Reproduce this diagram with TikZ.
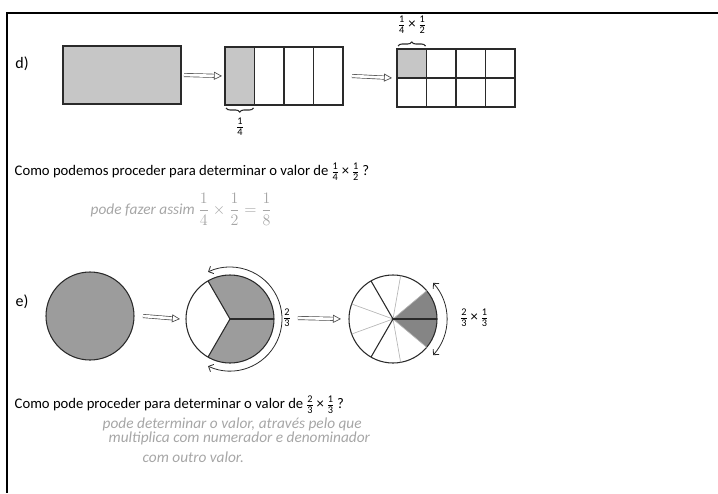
\documentclass[tikz,border=0pt]{standalone}
\usepackage{amsmath}
\usepackage{fontspec}
\setmainfont{Carlito}
\usetikzlibrary{arrows.meta,positioning,calc,decorations.pathreplacing}
\definecolor{Cinza}{HTML}{C6C6C6}
\definecolor{CinzaEscuro}{HTML}{9C9C9C}
\definecolor{Tinta}{HTML}{2A2A2A}
\definecolor{Lapis}{HTML}{A6A6A6}
\newcommand{\fracao}[2]{\ensuremath{\genfrac{}{}{0.4pt}{1}{\text{#1}}{\text{#2}}}}

\begin{document}
\begin{tikzpicture}[
  x=0.75pt,y=-0.75pt,
  font=\fontsize{11}{13}\selectfont,
  linha/.style={draw=Tinta,line width=0.8pt},
  caixa/.style={linha,minimum width=88.5pt,minimum height=43.5pt,inner sep=0pt,outer sep=0pt},
  disco/.style={circle,linha,minimum size=66pt,inner sep=0pt,outer sep=0pt},
  seta/.style={draw=Tinta!85,line width=0.5pt,double=white,double distance=2pt,
    -{Triangle[open,length=6pt,width=6pt]}},
  giro/.style={draw=Tinta,line width=0.6pt,{Straight Barb[length=3pt]}-{Straight Barb[length=3pt]}},
  chave/.style={draw=Tinta,line width=0.8pt,decorate,decoration={brace,amplitude=3pt}},
  mao/.style={Lapis,anchor=west,font=\fontsize{11.5}{13}\selectfont\itshape}
]
  \useasboundingbox (0,0) rectangle (718,493);
  % moldura da folha
  \draw[line width=1.6pt] (718,13) -| (7,493);

  % item d): retangulos
  \node[font=\fontsize{12}{14}\selectfont] (d) at (22,64) {d)};
  \node[caixa,fill=Cinza] (r1) at (122,75) {};
  \node[caixa,path picture={\fill[Cinza] (path picture bounding box.north west) rectangle
      ($(path picture bounding box.south west)!0.25!(path picture bounding box.south east)$);}]
    (r2) at (284,76) {};
  \foreach \f in {0.25,0.5,0.75}
    {\draw[linha] ($(r2.north west)!\f!(r2.north east)$) -- ($(r2.south west)!\f!(r2.south east)$);}
  \node[caixa,path picture={\fill[Cinza] (path picture bounding box.north west) rectangle
      ($(path picture bounding box.west)!0.25!(path picture bounding box.east)$);}]
    (r3) at (456,78) {};
  \foreach \f in {0.25,0.5,0.75}
    {\draw[linha] ($(r3.north west)!\f!(r3.north east)$) -- ($(r3.south west)!\f!(r3.south east)$);}
  \draw[linha] (r3.west) -- (r3.east);
  \draw[seta] ($(r1.east)+(3,0)$) -- ($(r2.west)+(-3,0)$);
  \draw[seta] ($(r2.east)+(9,0)$) -- ($(r3.west)+(-5,0)$);
  \draw[chave] ($(r2.south west)!0.25!(r2.south east)+(-1,3)$) -- ($(r2.south west)+(1,3)$);
  \node (q1) at (240,127) {\fracao{1}{4}};
  \draw[chave] ($(r3.north west)+(1,-3)$) -- ($(r3.north west)!0.25!(r3.north east)+(-1,-3)$);
  \node (q2) at (412,25) {\fracao{1}{4}\,×\,\fracao{1}{2}};

  \node[anchor=west] (p1) at (10,172)
    {Como podemos proceder para determinar o valor de\,\fracao{1}{4}\,×\,\fracao{1}{2}\,?};
  \node[mao] (h1) at (86,209) {pode fazer assim \(\dfrac{1}{4}\times\dfrac{1}{2}=\dfrac{1}{8}\)};

  % item e): circulos
  \node[font=\fontsize{12}{14}\selectfont] (e) at (22,302) {e)};
  \node[disco,fill=CinzaEscuro] (c1) at (90,316) {};
  \node[disco,path picture={\fill[CinzaEscuro] (path picture bounding box.center) --
      ++(-120:33pt) arc[start angle=-120,end angle=120,radius=33pt] -- cycle;}]
    (c2) at (230,319) {};
  \foreach \a in {0,120,240}
    {\draw[linha] (c2.center) -- (c2.\a);}
  \node[disco,path picture={\fill[CinzaEscuro!85!black] (path picture bounding box.center) --
      ++(-40:34pt) arc[start angle=-40,end angle=40,radius=34pt] -- cycle;}]
    (c3) at (393,319) {};
  \foreach \a in {40,80,160,200,280,320}
    {\draw[Tinta!35,line width=0.5pt] (c3.center) -- (c3.\a);}
  \foreach \a in {0,120,240}
    {\draw[linha] (c3.center) -- (c3.\a);}
  \draw[giro] (c2.center) ++(-115:39pt) arc[start angle=-115,end angle=115,radius=39pt];
  \draw[giro] (c3.center) ++(-42:40.5pt) arc[start angle=-42,end angle=42,radius=40.5pt];
  \node (q3) at (287,318) {\fracao{2}{3}};
  \node[anchor=west] (q4) at (455,318) {\fracao{2}{3}\,×\,\fracao{1}{3}};
  \draw[seta] ($(c1.east)+(9,0)$) -- ($(c2.west)+(-6,0)$);
  \draw[seta] ($(q3.east)+(2,0)$) -- ($(c3.west)+(-8,0)$);

  \node[anchor=west] (p2) at (10,405)
    {Como pode proceder para determinar o valor de\,\fracao{2}{3}\,×\,\fracao{1}{3}\,?};
  \node[mao] (h2) at (98,424) {pode determinar o valor, através pelo que};
  \node[mao] (h3) at (104,438) {multiplica com numerador e denominador};
  \node[mao] (h4) at (138,457) {com outro valor.};
\end{tikzpicture}
\end{document}
